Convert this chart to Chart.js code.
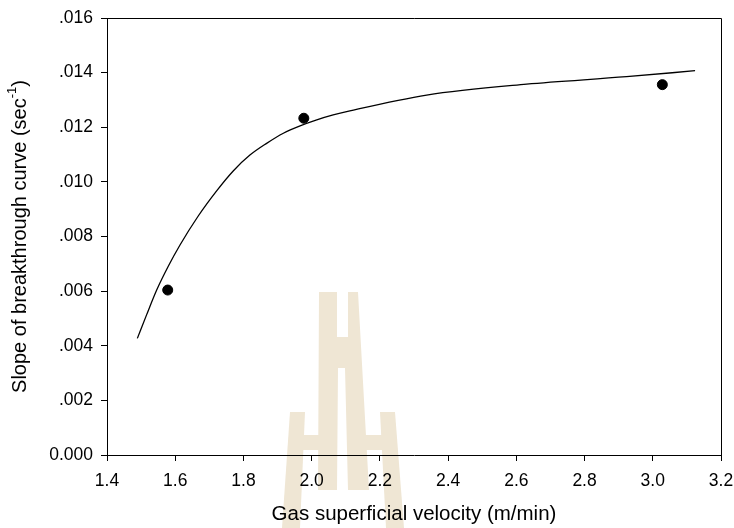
<!DOCTYPE html>
<html>
<head>
<meta charset="utf-8">
<script src="https://cdn.jsdelivr.net/npm/chart.js@4.4.1/dist/chart.umd.min.js"></script>
<style>
  html, body { margin: 0; padding: 0; background: #fff; }
  #wrap { width: 734px; height: 528px; }
</style>
</head>
<body>
<div id="wrap"><canvas id="slopeChart" width="734" height="528"></canvas></div>
<script>
// measured points
const velocity = [1.578, 1.977, 3.028];
const slope = [0.00604, 0.01233, 0.01356];

// fitted curve
const fitVelocity = [1.489, 1.516, 1.546, 1.580, 1.614, 1.668, 1.722, 1.770, 1.819, 1.868,
                     1.917, 1.966, 2.015, 2.063, 2.112, 2.337, 2.630, 2.923, 3.124];
const fitSlope = [0.00427, 0.00513, 0.00605, 0.00692, 0.00769, 0.00876, 0.00968, 0.01040, 0.01098, 0.01141,
                  0.01178, 0.01205, 0.01227, 0.01245, 0.01260, 0.01318, 0.01358, 0.01385, 0.01407];

const xTicks = [1.4, 1.6, 1.8, 2.0, 2.2, 2.4, 2.6, 2.8, 3.0, 3.2];
const yTicks = [0, 0.002, 0.004, 0.006, 0.008, 0.010, 0.012, 0.014, 0.016];

const FONT = '"Liberation Sans", Arial, sans-serif';

// faint logo behind the plot
const watermark = {
    id: 'watermark',
    beforeDraw(chart) {
        const c = chart.ctx;
        c.save();
        c.fillStyle = 'rgb(239,230,212)';
        const polys = [
            // central pair with crossbar
            [[319, 292], [337, 292], [337, 337], [348, 337], [348, 292], [358, 292],
             [369, 490], [348, 490], [345, 368], [338, 368], [337, 490], [318, 490]],
            // outer legs
            [[290, 412], [305, 412], [300, 528], [282, 528]],
            [[380, 412], [395, 412], [404, 528], [386, 528]]
        ];
        polys.forEach(p => {
            c.beginPath();
            c.moveTo(p[0][0], p[0][1]);
            for (let i = 1; i < p.length; i++) c.lineTo(p[i][0], p[i][1]);
            c.closePath();
            c.fill();
        });
        c.fillRect(303, 435, 17, 15);
        c.fillRect(364, 435, 18, 15);
        c.restore();
    }
};

// box and axis titles
const frame = {
    id: 'frame',
    afterDraw(chart) {
        const a = chart.chartArea;
        const c = chart.ctx;
        c.save();
        c.strokeStyle = '#000';
        c.lineWidth = 1;
        c.beginPath();
        c.moveTo(a.left, a.top + 0.5);
        c.lineTo(a.right + 0.5, a.top + 0.5);
        c.lineTo(a.right + 0.5, a.bottom);
        c.stroke();

        c.fillStyle = '#000';
        c.font = '20.5px ' + FONT;
        c.textAlign = 'center';
        c.textBaseline = 'middle';
        c.fillText('Gas superficial velocity (m/min)', (a.left + a.right) / 2, 514);

        // y title with superscript
        const main = 'Slope of breakthrough curve (sec';
        const sup = '-1';
        const end = ')';
        c.font = '20px ' + FONT;
        const w1 = c.measureText(main).width;
        const w3 = c.measureText(end).width;
        c.font = '13px ' + FONT;
        const w2 = c.measureText(sup).width;
        const total = w1 + w2 + w3;
        c.translate(20, (a.top + a.bottom) / 2);
        c.rotate(-Math.PI / 2);
        c.textAlign = 'left';
        let x = -total / 2;
        c.font = '20px ' + FONT;
        c.fillText(main, x, 0);
        x += w1;
        c.font = '13px ' + FONT;
        c.fillText(sup, x, -8);
        x += w2;
        c.font = '20px ' + FONT;
        c.fillText(end, x, 0);
        c.restore();
    }
};

const ctx = document.getElementById('slopeChart').getContext('2d');
const slopeChart = new Chart(ctx, {
    type: 'scatter',
    data: {
        datasets: [{
            label: 'fit',
            type: 'line',
            data: fitVelocity.map((v, i) => ({ x: v, y: fitSlope[i] })),
            borderColor: '#000',
            borderWidth: 1.3,
            pointRadius: 0,
            fill: false,
            cubicInterpolationMode: 'monotone'
        }, {
            label: 'data',
            data: velocity.map((v, i) => ({ x: v, y: slope[i] })),
            backgroundColor: '#000',
            borderColor: '#000',
            pointRadius: 5,
            pointHoverRadius: 5
        }]
    },
    options: {
        responsive: false,
        animation: false,
        layout: { padding: { top: 18, right: 13, left: 0, bottom: 0 } },
        plugins: {
            legend: { display: false },
            tooltip: { enabled: false }
        },
        scales: {
            x: {
                type: 'linear',
                min: 1.4,
                max: 3.2,
                afterFit(scale) {
                    scale.height = 73;
                    scale.paddingLeft = 0;
                    scale.paddingRight = 0;
                },
                afterBuildTicks(scale) { scale.ticks = xTicks.map(v => ({ value: v })); },
                ticks: {
                    color: '#000',
                    font: { family: FONT, size: 17.5 },
                    padding: 10,
                    maxRotation: 0,
                    callback: v => v.toFixed(1)
                },
                grid: { drawOnChartArea: false, tickLength: 6, color: '#000' },
                border: { color: '#000', width: 1 }
            },
            y: {
                min: 0,
                max: 0.016,
                afterFit(scale) {
                    scale.width = 107;
                    scale.paddingTop = 0;
                    scale.paddingBottom = 0;
                },
                afterBuildTicks(scale) { scale.ticks = yTicks.map(v => ({ value: v })); },
                ticks: {
                    color: '#000',
                    font: { family: FONT, size: 17.5 },
                    padding: 8,
                    callback: v => v === 0 ? '0.000' : v.toFixed(3).replace(/^0/, '')
                },
                grid: { drawOnChartArea: false, tickLength: 6, color: '#000' },
                border: { color: '#000', width: 1 }
            }
        }
    },
    plugins: [watermark, frame]
});
</script>
</body>
</html>
